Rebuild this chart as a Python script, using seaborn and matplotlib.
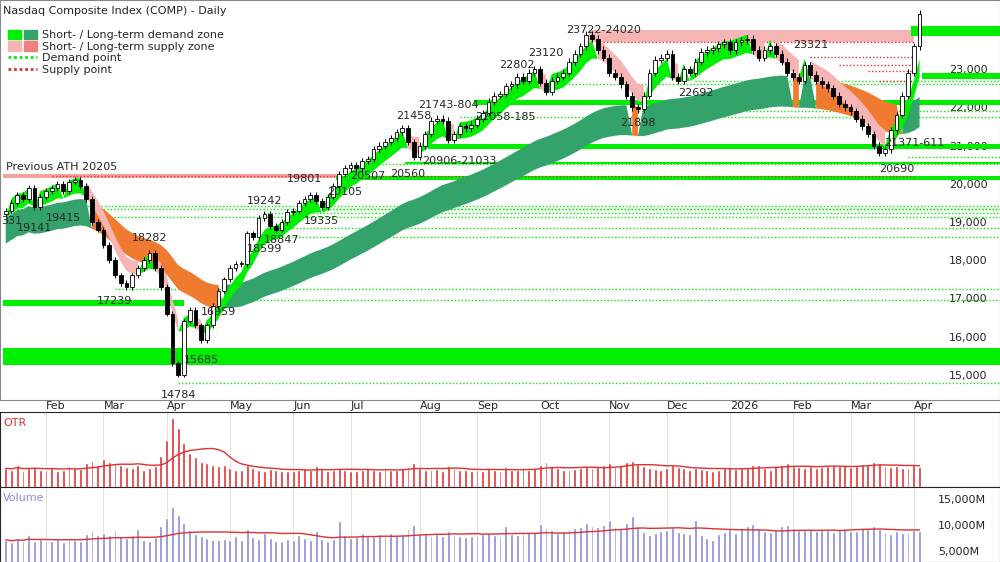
import numpy as np
import pandas as pd
import matplotlib
matplotlib.use("Agg")
import matplotlib.pyplot as plt
import matplotlib.patches as mpatches
from matplotlib.lines import Line2D
from matplotlib.legend_handler import HandlerTuple
import seaborn as sns

sns.set_style("white")
plt.rcParams['font.family'] = ['DejaVu Sans']
plt.rcParams['font.size'] = 8

# ---- data (one bar = two trading days) ----
closes = [19300, 19500, 19700, 19600, 19900, 19400, 19650,
          19800, 19900, 20000, 19800, 20050, 20100, 19950, 19600, 19000, 18800,
          18400, 18000, 17600, 17400, 17300, 17600, 17800, 18000, 18200, 17800,
          17300, 16600, 15300, 15000, 16400, 16700, 16300, 15900, 16300, 16800, 17200,
          17500, 17800, 17900, 17900, 18700, 18600, 19100, 19200, 18900, 18800, 19000,
          19250, 19300, 19500, 19600, 19700, 19550, 19400, 19650, 19950, 20250,
          20400, 20500, 20400, 20600, 20650, 20900, 21000, 21100, 21200, 21350, 21450,
          21100, 20700, 21000, 21300, 21650, 21700, 21650, 21150, 21300, 21500, 21450,
          21550, 21700, 21850, 22150, 22300, 22350, 22550, 22600, 22800, 22700,
          22900, 23000, 22650, 22400, 22700, 22800, 22900, 23200, 23400, 23600, 23900, 23800,
          23500, 23300, 22900, 22800, 22600, 22300, 22000, 21950, 22300, 22900,
          23250, 23300, 23400, 22800, 22700, 23000, 22900, 23200, 23450, 23500, 23550,
          23650, 23700, 23500, 23700, 23750, 23800, 23500, 23300, 23500, 23600,
          23400, 23200, 22900, 22800, 22700, 23100, 22850, 22700, 22600,
          22500, 22300, 22100, 22000, 21900, 21700, 21500, 21300, 21000, 20800, 20900,
          21400, 21800, 22300, 22900, 23600, 24450]

otr = [.30, .28, .35, .25, .30, .32, .28,
       .27, .30, .25, .28, .33, .30, .29, .38, .42, .35,
       .45, .40, .38, .35, .32, .30, .36, .28, .30, .34,
       .50, .75, 1.10, .95, .70, .55, .48, .40, .38, .35, .33,
       .36, .30, .28, .27, .35, .30, .28, .26, .29, .27, .25,
       .26, .25, .28, .30, .27, .33, .29, .26, .28, .30,
       .27, .26, .25, .28, .30, .27, .26, .29, .28, .27, .30,
       .32, .38, .30, .28, .27, .29, .26, .33, .30, .28, .27,
       .26, .28, .25, .30, .27, .26, .32, .28, .27, .29,
       .28, .30, .36, .40, .33, .30, .28, .27, .29, .31, .33, .30,
       .32, .35, .38, .34, .36, .40, .42, .37, .33, .30,
       .29, .28, .30, .35, .32, .30, .28, .31, .29, .27, .26,
       .28, .30, .32, .29, .31, .30, .35, .36, .30, .28,
       .33, .36, .38, .34, .32, .30, .33, .31, .32,
       .34, .35, .33, .36, .32, .34, .37, .35, .40, .38, .33,
       .32, .34, .31, .30, .35, .32]

volume = [7200, 6800, 7500, 6900, 8100, 7000, 7400,
          7100, 6900, 7300, 6800, 7600, 7200, 7000, 8300, 8800, 8100,
          8600, 8200, 9000, 7900, 7600, 8100, 9300, 7200, 7000, 7800,
          9800, 11500, 13500, 12000, 10500, 9100, 8300, 7900, 7600, 7200, 7100,
          7400, 7200, 8000, 7100, 9200, 7800, 7300, 8500, 7600, 7000, 6900,
          7300, 7100, 8100, 7500, 7200, 8900, 7300, 7000, 7400, 10800,
          8200, 7600, 7800, 8500, 7900, 8000, 8300, 8100, 8600, 8200, 8400,
          9200, 10100, 8600, 8300, 8000, 8400, 7900, 8800, 8200, 8000, 7700,
          7900, 8100, 8300, 8600, 8200, 8000, 9800, 8400, 8100, 8300,
          8500, 8700, 10200, 9500, 9000, 8600, 8800, 9100, 9400, 9600, 10500, 9800,
          9700, 10100, 11000, 9600, 9300, 10400, 11800, 9900, 8700, 8200,
          8500, 8800, 9000, 9600, 8700, 8500, 8300, 11000, 8200, 7500, 7100,
          8300, 8700, 9200, 8600, 9500, 9800, 10200, 9500, 8900, 8700,
          9300, 9800, 10000, 9400, 9100, 9000, 9200, 8800, 9100,
          9000, 8700, 9100, 9400, 8900, 8800, 9500, 9200, 9800, 9300, 8700,
          8400, 8900, 8600, 8500, 9100, 8800]

# price annotations: (bar index, price, text, above?)
labels = [(1, 19331, "331", False), (5, 19141, "19141", False), (10, 19415, "19415", False),
          (25, 18282, "18282", True), (19, 17239, "17239", False), (30, 14784, "14784", False),
          (34, 15685, "15685", False), (37, 16959, "16959", False), (45, 18599, "18599", False),
          (45, 19242, "19242", True), (48, 18847, "18847", False), (52, 19801, "19801", True),
          (55, 19335, "19335", False), (59, 20105, "20105", False), (63, 20507, "20507", False),
          (70, 20560, "20560", False), (71, 21458, "21458", True), (77, 21743, "21743-804", True),
          (79, 20906, "20906-21033", False), (87, 22058, "22058-185", False), (89, 22802, "22802", True),
          (94, 23120, "23120", True), (104, 23722, "23722-24020", True), (110, 21898, "21898", False),
          (120, 22692, "22692", False), (140, 23321, "23321", True), (155, 20690, "20690", False),
          (158, 21371, "21371-611", False)]

# horizontal zones: (low, high, from bar, kind)
zones = [(15250, 15700, 0, "demand"), (16800, 16959, 0, "demand_short"),
         (20160, 20250, 0, "supply_short"), (20105, 20205, 58, "demand"),
         (20507, 20560, 70, "demand"), (20906, 21033, 74, "demand"),
         (22058, 22185, 82, "demand"), (23722, 24020, 102, "supply_end"),
         (23880, 24120, 158, "demand"), (22750, 22900, 160, "demand")]

demand_pts = [(0, 19331), (5, 19141), (10, 19415), (19, 17239), (30, 14784), (34, 15685),
              (37, 16959), (45, 18599), (48, 18847), (55, 19335), (45, 19242), (63, 20507),
              (79, 21743), (90, 22600), (120, 22692), (110, 21898), (157, 20690)]
supply_pts = [(8, 20205), (104, 23722), (140, 23321), (145, 23120), (150, 22950), (152, 22700)]

n = len(closes)
dates = pd.bdate_range("2025-01-14", "2026-04-30")[::2][:n]
c = np.array(closes, float)
o = np.r_[c[0] - 100, c[:-1]]
hi = np.maximum(o, c) * 1.004
lo = np.minimum(o, c) * 0.996
x = np.arange(n)
s = pd.Series(c)
ema_l = s.ewm(span=40).mean().values
ema_s = s.ewm(span=6).mean().values

LIME, DGREEN, PINK, ORANGE, RED = "#00ee00", "#33a36b", "#f5b5b5", "#f07a30", "#e03030"

fig = plt.figure(figsize=(10, 5.62), dpi=100)
ax = fig.add_axes([0, 162 / 562, 1, 400 / 562])
ax2 = fig.add_axes([0, 75 / 562, 1, 75 / 562], sharex=ax)
ax3 = fig.add_axes([0, 0, 1, 75 / 562], sharex=ax)
XMAX = 173
ax.set_xlim(-1, XMAX)
ax.set_ylim(14340, 24810)

zcol = {"demand": LIME, "demand_short": LIME, "supply_short": "#f7a0a0", "supply_end": PINK}
for zl, zh, zs, kind in zones:
    xe = 158 if kind == "supply_end" else (58 if kind == "supply_short" else (31 if kind == "demand_short" else XMAX))
    ax.fill_between([zs - 0.5, xe], zl, zh, color=zcol[kind], lw=0, zorder=1)

for xs, lv in demand_pts:
    ax.plot([xs, XMAX], [lv, lv], ls=(0, (1, 1.5)), color=LIME, lw=1, zorder=1.5)
for xs, lv in supply_pts:
    ax.plot([xs, 158], [lv, lv], ls=(0, (1, 1.5)), color=RED, lw=1, zorder=1.5)

# long-term ribbon
band_lo, band_hi = ema_l * 0.955, ema_l * 0.99
up_l = c > band_hi
ax.fill_between(x, band_lo, band_hi, where=up_l, color=DGREEN, lw=0, zorder=2, interpolate=True)
ax.fill_between(x, band_lo, band_hi, where=~up_l, color=ORANGE, lw=0, zorder=2, interpolate=True)
# short-term ribbon
up_s = c > ema_s
ax.fill_between(x, ema_s * 0.99, ema_s * 1.01, where=up_s, color=LIME, lw=0, zorder=2.5, interpolate=True)
ax.fill_between(x, ema_s * 0.99, ema_s * 1.01, where=~up_s, color=PINK, lw=0, zorder=2.5, interpolate=True)

# candles
ax.vlines(x, lo, hi, color="black", lw=0.7, zorder=3)
body_col = np.where(c >= o, "white", "black")
ax.bar(x, np.maximum(np.abs(c - o), 25), bottom=np.minimum(o, c), width=0.65,
       color=body_col, edgecolor="black", lw=0.6, zorder=4)

for bi, pv, txt, above in labels:
    ax.text(bi, pv + (180 if above else -180), txt, ha="center",
            va="bottom" if above else "top", fontsize=8, zorder=6)
ax.text(0, 20350, "Previous ATH 20205", fontsize=8, zorder=6)
ax.text(0.003, 0.985, "Nasdaq Composite Index (COMP) - Daily", transform=ax.transAxes,
        fontsize=8, va="top", zorder=6)

handles = [(mpatches.Patch(color=LIME), mpatches.Patch(color=DGREEN)),
           (mpatches.Patch(color=PINK), mpatches.Patch(color="#f08080")),
           Line2D([], [], color=LIME, ls=(0, (1, 1)), lw=2),
           Line2D([], [], color=RED, ls=(0, (1, 1)), lw=2)]
leg = ax.legend(handles, ["Short- / Long-term demand zone", "Short- / Long-term supply zone",
                          "Demand point", "Supply point"],
                handler_map={tuple: HandlerTuple(ndivide=None, pad=0.3)},
                loc="upper left", bbox_to_anchor=(0.0, 0.945), frameon=True, framealpha=1,
                edgecolor="white", fontsize=8, handlelength=2.6, handleheight=0.9,
                labelspacing=0.1, borderpad=0.2, handletextpad=0.5)
leg.set_zorder(7)

ax.set_yticks([15000, 16000, 17000, 18000, 19000, 20000, 21000, 22000, 23000, 24000])
ax.yaxis.set_major_formatter(matplotlib.ticker.FuncFormatter(lambda v, p: f"{int(v):,}"))
ax.tick_params(axis="y", labelleft=False, labelright=True, right=False, left=False, pad=-40, labelsize=8)

# month ticks
months = pd.Series(dates.to_period("M"))
starts = [i for i in range(1, n) if months[i] != months[i - 1]]
mlabels = ["2026" if dates[i].month == 1 else dates[i].strftime("%b") for i in starts]
ax.set_xticks(starts)
ax.set_xticklabels(mlabels, ha="left")
ax.tick_params(axis="x", length=0, pad=1, labelsize=8)
for a in (ax2, ax3):
    for i in starts:
        a.axvline(i, color="#dddddd", lw=0.6, zorder=0)
    a.tick_params(axis="x", labelbottom=False, length=0)
for sp in ax.spines.values():
    sp.set_color("#888888")

# OTR panel
ax2.bar(x, otr, width=0.5, color=RED, zorder=2)
sns.lineplot(x=x, y=pd.Series(otr).rolling(10, min_periods=1).mean().values, ax=ax2,
             color=RED, lw=1, zorder=3)
ax2.set_ylim(0, 1.2)
ax2.set_yticks([])
ax2.text(0.003, 0.92, "OTR", transform=ax2.transAxes, color=RED, fontsize=8, va="top")

# volume panel
ax3.bar(x, volume, width=0.5, color="#8a8ad8", zorder=2)
sns.lineplot(x=x, y=pd.Series(volume).rolling(25, min_periods=1).mean().values, ax=ax3,
             color=RED, lw=1, zorder=3)
ax3.set_ylim(2900, 17400)
ax3.set_yticks([5000, 10000, 15000])
ax3.yaxis.set_major_formatter(matplotlib.ticker.FuncFormatter(lambda v, p: f"{int(v):,}M"))
ax3.tick_params(axis="y", labelleft=False, labelright=True, right=False, left=False, pad=-48, labelsize=8)
ax3.text(0.003, 0.92, "Volume", transform=ax3.transAxes, color="#8a8ad8", fontsize=8, va="top")
ax3.set_xlim(-1, XMAX)

fig.savefig("out.png", dpi=100)
